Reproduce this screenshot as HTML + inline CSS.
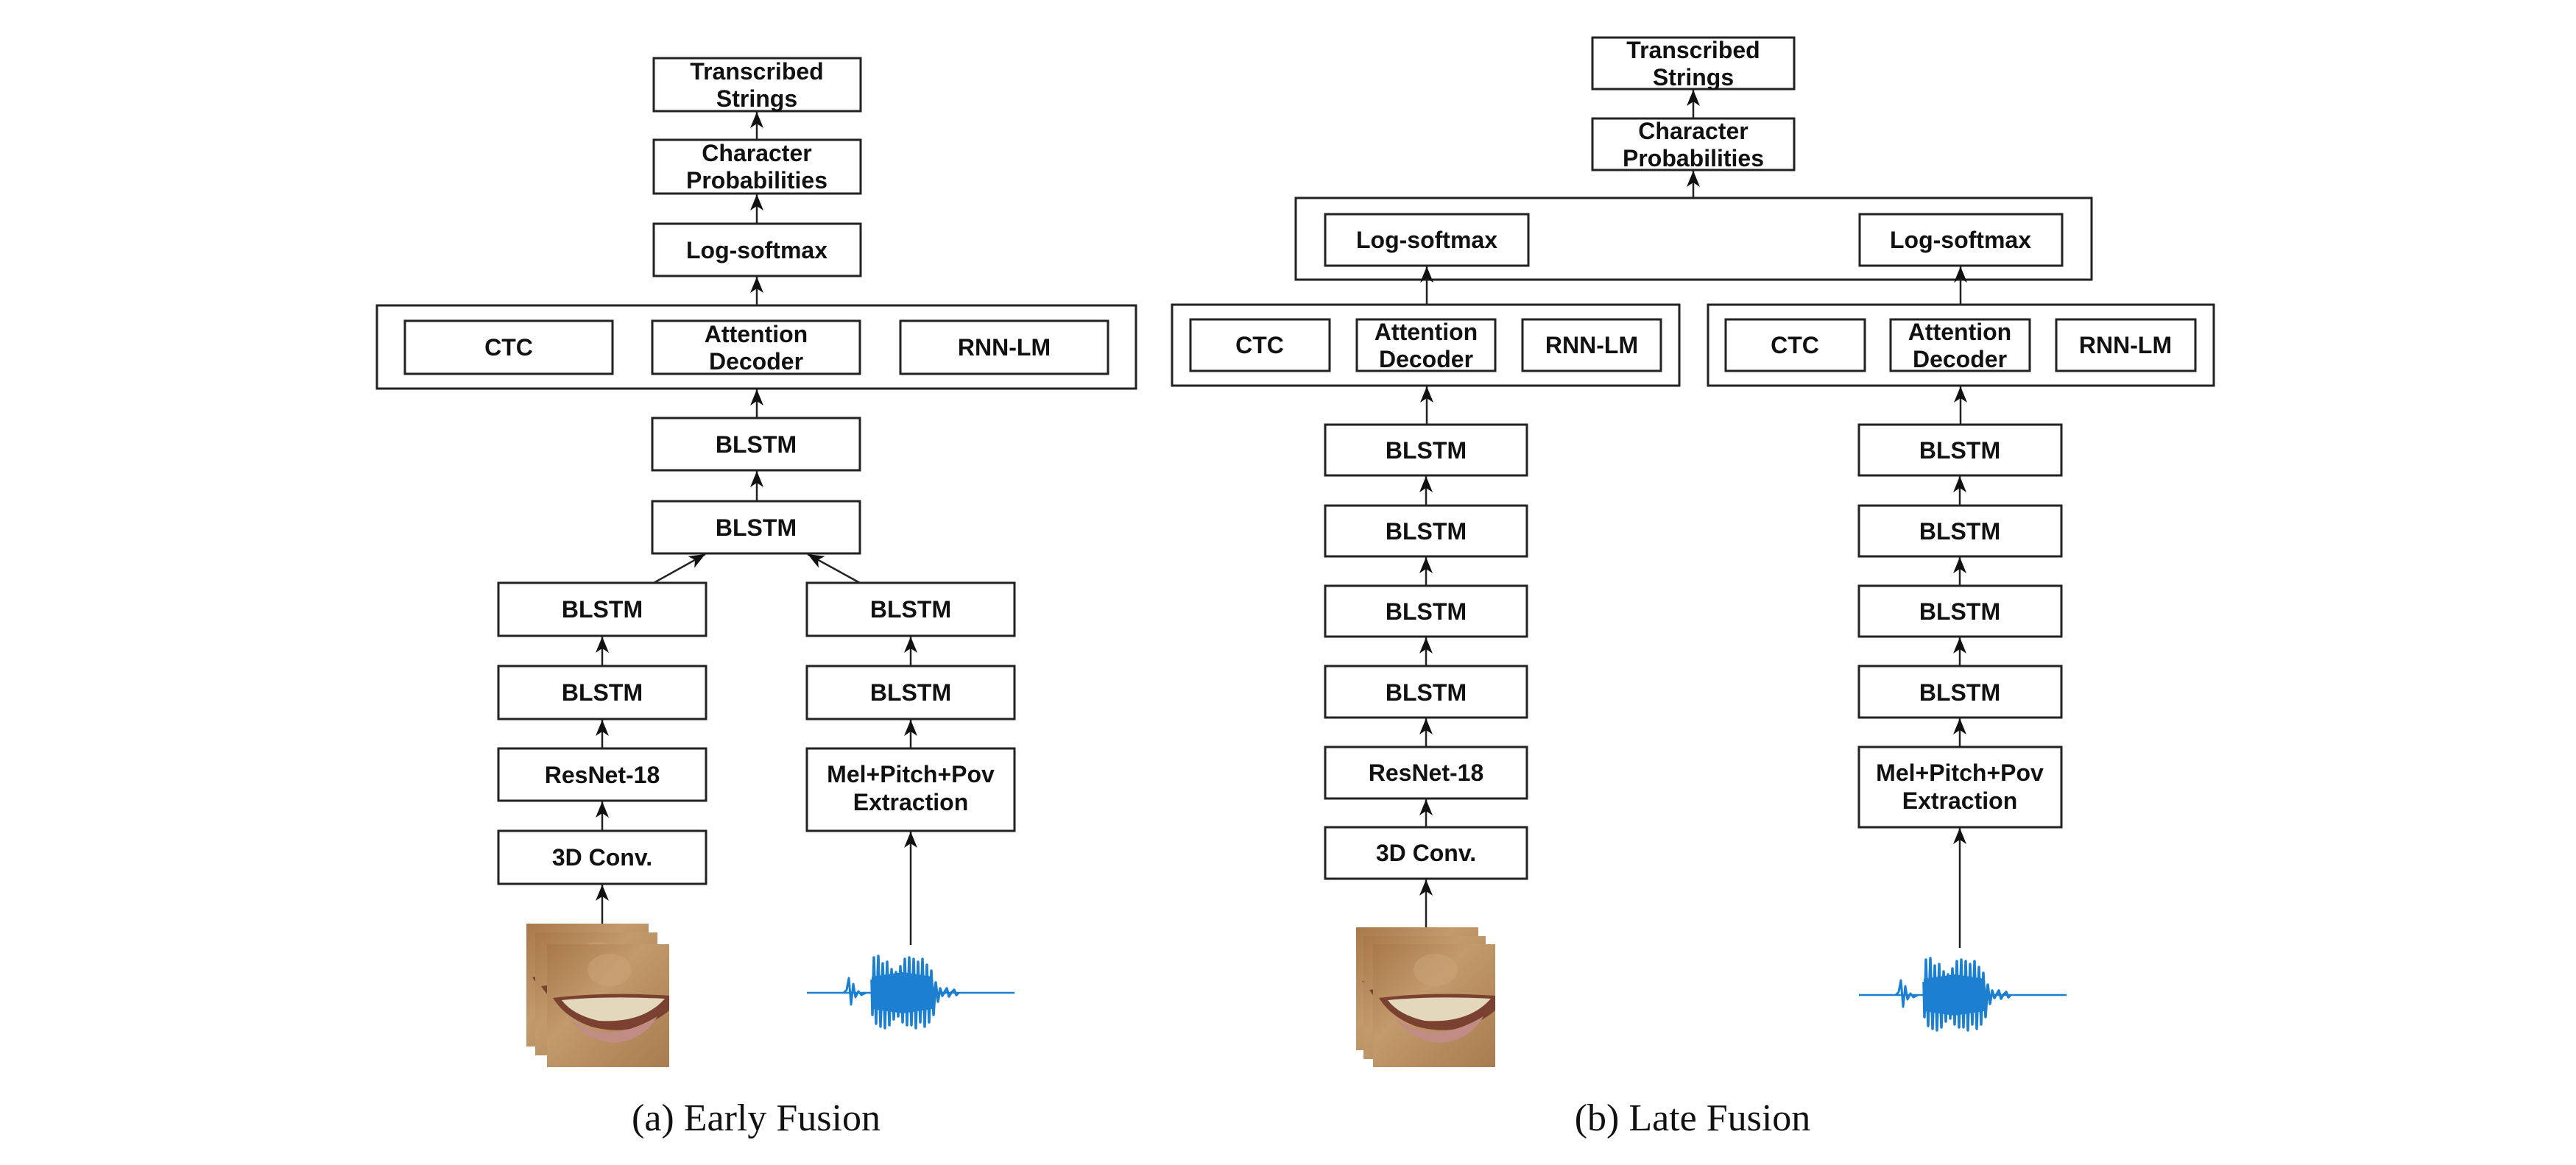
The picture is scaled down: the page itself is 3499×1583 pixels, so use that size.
<!DOCTYPE html>
<html><head><meta charset="utf-8"><style>
html,body{margin:0;padding:0;background:#fff;}
svg{display:block}
text{font-family:"Liberation Sans",Arial,sans-serif;font-weight:bold;font-size:32px;fill:#111;text-anchor:middle;}
text.cap{font-family:"Liberation Serif","Times New Roman",serif;font-weight:normal;font-size:52px;}
</style></head><body>
<svg width="3499" height="1583" viewBox="0 0 3499 1583" xmlns="http://www.w3.org/2000/svg">
<defs>
<marker id="ah" markerUnits="userSpaceOnUse" markerWidth="24" markerHeight="30" refX="22" refY="9" orient="auto">
<path d="M22 9 L0 0 L6 9 L0 18 Z" fill="#111"/>
</marker>
<linearGradient id="skin" x1="0" y1="0" x2="1" y2="1">
<stop offset="0" stop-color="#a8784a"/><stop offset="0.4" stop-color="#c29a6c"/><stop offset="1" stop-color="#a87c50"/>
</linearGradient>
<g id="face">
<rect x="0" y="0" width="166" height="167" fill="url(#skin)"/>
<ellipse cx="85" cy="35" rx="30" ry="22" fill="#c8a276" opacity="0.6"/>
<path d="M8 73 Q80 64 166 70 L166 90 Q120 128 60 112 Q25 100 8 73 Z" fill="#7a4030"/>
<path d="M20 76 Q80 70 160 74 Q130 108 70 104 Q35 96 20 76 Z" fill="#e4d8bc"/>
<path d="M30 100 Q80 140 150 98 Q130 132 90 134 Q50 130 30 100 Z" fill="#c08c84"/>
</g>
<g id="wave" stroke="#1d7fd0" fill="none" stroke-linejoin="round">
<path d="M0 0 H282" stroke-width="2.5"/>
<path d="M50 0 L54 -4 L57 -20 L60 16 L63 -12 L66 6 L70 -2 L74 3 L80 0" stroke-width="3"/>
<path d="M88 -18 L89 30 L91 -48 L94 42 L97 -50 L100 46 L103 -40 L106 48 L109 -42 L112 44 L115 -32 L118 36 L121 -28 L124 32 L127 -36 L130 40 L133 -46 L136 44 L139 -48 L142 44 L145 -46 L148 48 L151 -42 L154 40 L157 -46 L160 46 L163 -38 L166 40 L169 -30 L172 30 L175 -14 L178 12 L181 -6 L184 4 L190 -6 L193 5 L196 0 L200 -4 L203 3 L206 0" stroke-width="3.5"/>
<path d="M88 -22 L130 -28 L170 -22 L174 0 L170 22 L130 28 L88 22 Z" fill="#1d7fd0" stroke="none"/>
</g>
</defs>
<g fill="none" stroke="#222" stroke-width="3">
<!-- Early fusion -->
<rect x="888" y="79" width="281" height="72"/>
<rect x="888" y="190" width="281" height="73"/>
<rect x="888" y="304" width="281" height="71"/>
<rect x="512" y="415" width="1031" height="113"/>
<rect x="550" y="436" width="282" height="72"/>
<rect x="886" y="436" width="282" height="72"/>
<rect x="1223" y="436" width="282" height="72"/>
<rect x="886" y="568" width="282" height="71"/>
<rect x="886" y="681" width="282" height="71"/>
<rect x="677" y="792" width="282" height="72"/>
<rect x="677" y="905" width="282" height="72"/>
<rect x="677" y="1017" width="282" height="71"/>
<rect x="677" y="1129" width="282" height="72"/>
<rect x="1096" y="792" width="282" height="72"/>
<rect x="1096" y="905" width="282" height="72"/>
<rect x="1096" y="1017" width="282" height="112"/>
<!-- Late fusion -->
<rect x="2163" y="51" width="274" height="70"/>
<rect x="2163" y="161" width="274" height="70"/>
<rect x="1760" y="269" width="1081" height="111"/>
<rect x="1800" y="291" width="276" height="70"/>
<rect x="2526" y="291" width="275" height="70"/>
<rect x="1592" y="414" width="689" height="110"/>
<rect x="1617" y="434" width="189" height="70"/>
<rect x="1843" y="434" width="188" height="70"/>
<rect x="2068" y="434" width="188" height="70"/>
<rect x="2320" y="414" width="687" height="110"/>
<rect x="2344" y="434" width="189" height="70"/>
<rect x="2568" y="434" width="189" height="70"/>
<rect x="2793" y="434" width="189" height="70"/>
<rect x="1800" y="577" width="274" height="69"/>
<rect x="1800" y="687" width="274" height="69"/>
<rect x="1800" y="796" width="274" height="69"/>
<rect x="1800" y="905" width="274" height="70"/>
<rect x="1800" y="1015" width="274" height="70"/>
<rect x="1800" y="1124" width="274" height="70"/>
<rect x="2525" y="577" width="275" height="69"/>
<rect x="2525" y="687" width="275" height="69"/>
<rect x="2525" y="796" width="275" height="69"/>
<rect x="2525" y="905" width="275" height="70"/>
<rect x="2525" y="1015" width="275" height="109"/>
</g>
<g stroke="#222" stroke-width="2.5" marker-end="url(#ah)">
<line x1="1028" y1="190" x2="1028" y2="152"/>
<line x1="1028" y1="304" x2="1028" y2="264"/>
<line x1="1028" y1="415" x2="1028" y2="376"/>
<line x1="1028" y1="568" x2="1028" y2="529"/>
<line x1="1028" y1="681" x2="1028" y2="640"/>
<line x1="888" y1="792" x2="958" y2="753"/>
<line x1="1168" y1="792" x2="1097" y2="753"/>
<line x1="818" y1="905" x2="818" y2="865"/>
<line x1="818" y1="1017" x2="818" y2="978"/>
<line x1="818" y1="1129" x2="818" y2="1089"/>
<line x1="818" y1="1256" x2="818" y2="1202"/>
<line x1="1237" y1="905" x2="1237" y2="865"/>
<line x1="1237" y1="1017" x2="1237" y2="978"/>
<line x1="1237" y1="1284" x2="1237" y2="1130"/>
<line x1="2300" y1="161" x2="2300" y2="122"/>
<line x1="2300" y1="269" x2="2300" y2="232"/>
<line x1="1938" y1="414" x2="1938" y2="362"/>
<line x1="2663" y1="414" x2="2663" y2="362"/>
<line x1="1938" y1="577" x2="1938" y2="525"/>
<line x1="2663" y1="577" x2="2663" y2="525"/>
<line x1="1937" y1="687" x2="1937" y2="647"/>
<line x1="1937" y1="796" x2="1937" y2="757"/>
<line x1="1937" y1="905" x2="1937" y2="866"/>
<line x1="1937" y1="1015" x2="1937" y2="976"/>
<line x1="1937" y1="1124" x2="1937" y2="1086"/>
<line x1="1937" y1="1260" x2="1937" y2="1195"/>
<line x1="2662" y1="687" x2="2662" y2="647"/>
<line x1="2662" y1="796" x2="2662" y2="757"/>
<line x1="2662" y1="905" x2="2662" y2="866"/>
<line x1="2662" y1="1015" x2="2662" y2="976"/>
<line x1="2662" y1="1288" x2="2662" y2="1125"/>
</g>
<!-- Early text -->
<text x="1028" y="108">Transcribed</text><text x="1028" y="145">Strings</text>
<text x="1028" y="219">Character</text><text x="1028" y="256">Probabilities</text>
<text x="1028" y="351">Log-softmax</text>
<text x="691" y="483">CTC</text>
<text x="1027" y="465">Attention</text><text x="1027" y="502">Decoder</text>
<text x="1364" y="483">RNN-LM</text>
<text x="1027" y="615">BLSTM</text>
<text x="1027" y="728">BLSTM</text>
<text x="818" y="839">BLSTM</text>
<text x="818" y="952">BLSTM</text>
<text x="818" y="1064">ResNet-18</text>
<text x="818" y="1176">3D Conv.</text>
<text x="1237" y="839">BLSTM</text>
<text x="1237" y="952">BLSTM</text>
<text x="1237" y="1063">Mel+Pitch+Pov</text><text x="1237" y="1101">Extraction</text>
<!-- Late text -->
<text x="2300" y="79">Transcribed</text><text x="2300" y="116">Strings</text>
<text x="2300" y="189">Character</text><text x="2300" y="226">Probabilities</text>
<text x="1938" y="337">Log-softmax</text>
<text x="2663" y="337">Log-softmax</text>
<text x="1711" y="480">CTC</text>
<text x="1937" y="462">Attention</text><text x="1937" y="499">Decoder</text>
<text x="2162" y="480">RNN-LM</text>
<text x="2438" y="480">CTC</text>
<text x="2662" y="462">Attention</text><text x="2662" y="499">Decoder</text>
<text x="2887" y="480">RNN-LM</text>
<text x="1937" y="623">BLSTM</text>
<text x="1937" y="733">BLSTM</text>
<text x="1937" y="842">BLSTM</text>
<text x="1937" y="952">BLSTM</text>
<text x="1937" y="1061">ResNet-18</text>
<text x="1937" y="1170">3D Conv.</text>
<text x="2662" y="623">BLSTM</text>
<text x="2662" y="733">BLSTM</text>
<text x="2662" y="842">BLSTM</text>
<text x="2662" y="952">BLSTM</text>
<text x="2662" y="1061">Mel+Pitch+Pov</text><text x="2662" y="1099">Extraction</text>
<!-- images -->
<use href="#face" x="715" y="1255"/>
<use href="#face" x="727" y="1267"/>
<use href="#face" x="743" y="1283"/>
<use href="#face" x="1842" y="1260"/>
<use href="#face" x="1852" y="1272"/>
<use href="#face" x="1865" y="1283"/>
<use href="#wave" x="1096" y="1349"/>
<use href="#wave" x="2525" y="1352"/>
<text class="cap" x="1027" y="1536">(a) Early Fusion</text>
<text class="cap" x="2299" y="1536">(b) Late Fusion</text>
</svg>
</body></html>
